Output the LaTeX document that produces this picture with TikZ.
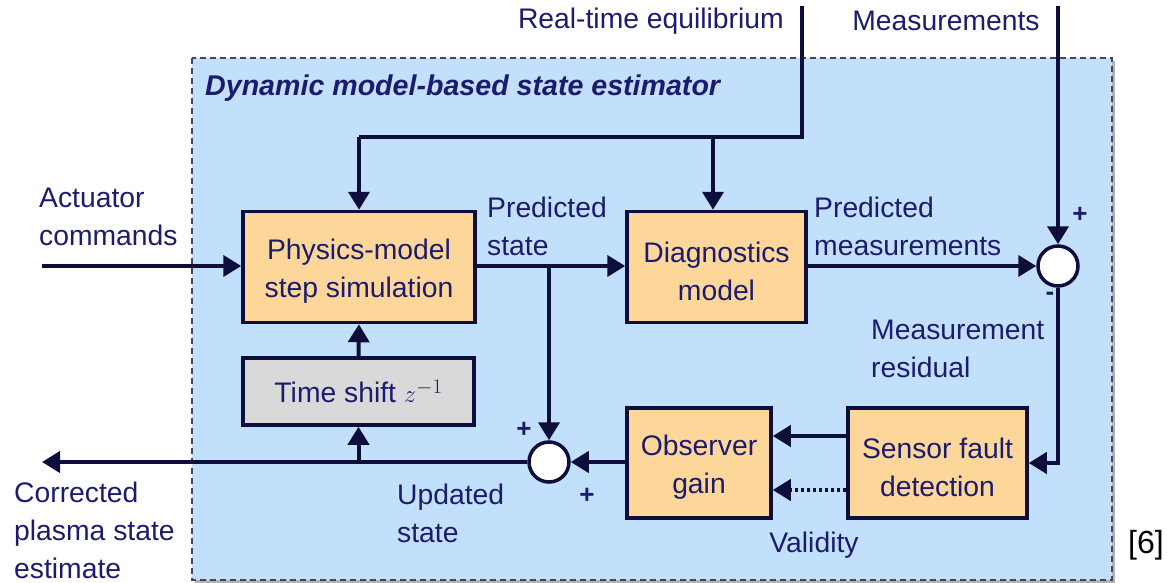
\documentclass[tikz,border=0pt]{standalone}
\usepackage{fontspec}
\setmainfont{Liberation Sans}
\usetikzlibrary{arrows.meta,calc}
\definecolor{inkcol}{RGB}{14,14,60}
\definecolor{txtcol}{RGB}{28,28,110}
\definecolor{panelcol}{RGB}{194,224,252}
\definecolor{blockcol}{RGB}{253,214,154}
\definecolor{delaycol}{RGB}{217,217,217}
\definecolor{framecol}{RGB}{70,70,90}
\newcommand{\topstrut}{\rule{0pt}{29pt}}
\tikzset{
  lbl/.style={text=txtcol,font=\fontsize{28.3}{38}\selectfont,inner sep=0pt},
  block/.style={draw=inkcol,line width=3.5pt,fill=blockcol,align=center,
    text=txtcol,font=\fontsize{28.3}{38}\selectfont,inner sep=0pt},
  sign/.style={lbl,font=\fontsize{26}{28}\selectfont\bfseries},
  sumnode/.style={circle,draw=inkcol,line width=3.5pt,fill=white,minimum size=40pt,inner sep=0pt},
  wire/.style={draw=inkcol,line width=4pt},
  arr/.style={wire,-{Triangle[length=18pt,width=21pt]}},
  dotarr/.style={arr,dash pattern=on 3pt off 3pt},
}
\begin{document}
\begin{tikzpicture}[x=1pt,y=-1pt]
\useasboundingbox (0,0) rectangle (1167,583);
% estimator panel with its shadow
\fill[gray!60] (195,61) rectangle (1115,583);
\draw[fill=panelcol,draw=framecol,line width=1.3pt,dash pattern=on 6pt off 4pt]
  (192,58) rectangle (1112,580);
\node[lbl,anchor=west,font=\fontsize{28.6}{32}\selectfont\bfseries\itshape] (title) at (205,88)
  {Dynamic model-based state estimator};

% blocks
\node[block,minimum width=232pt,minimum height=111pt] (phys) at (359,267)
  {\topstrut Physics-model\\step simulation};
\node[block,minimum width=179pt,minimum height=111pt] (diag) at (716.5,267)
  {\topstrut Diagnostics\\model};
\node[block,fill=delaycol,minimum width=231pt,minimum height=67pt] (delay) at (358.5,391.5)
  {Time shift $z^{-1}$};
\node[block,minimum width=144pt,minimum height=110pt] (obs) at (699,463)
  {\topstrut Observer\\gain};
\node[block,minimum width=179pt,minimum height=110pt] (sfd) at (937.5,463)
  {\topstrut Sensor fault\\detection};
\node[sumnode] (sumA) at (1058,266) {};
\node[sumnode] (sumB) at (549,462) {};

% external inputs / outputs
\coordinate (act) at (42,266);
\coordinate (rteq) at (802,6);
\coordinate (rtc) at (802,137);
\coordinate (meas) at (1058,6);
\coordinate (est) at (42,462);

% connectors
\draw[arr] (act) -- (act -| phys.west);
\draw[wire] (rteq) -- (rtc) -- (phys.north |- rtc);
\draw[arr] (phys.north |- rtc) -- (phys.north);
\draw[arr] ([xshift=-3.5pt]diag.north |- rtc) -- ([xshift=-3.5pt]diag.north);
\draw[arr] (act -| phys.east) -- (act -| diag.west);
\draw[arr] (act -| sumB) -- (sumB.north);
\draw[arr] (act -| diag.east) -- (sumA.west);
\draw[arr] (meas) -- (sumA.north);
\draw[arr] (sumA.south) |- (sfd.east);
\draw[arr] ([yshift=27pt]sfd.west) -- ([yshift=27pt]obs.east);
\draw[dotarr] ([yshift=-27pt]sfd.west) -- ([yshift=-27pt]obs.east);
\draw[arr] (obs.west |- sumB) -- (sumB.east);
\draw[arr] (sumB.west) -- (est);
\draw[arr] (delay.south |- sumB) -- (delay.south);
\draw[arr] (delay.north) -- (phys.south);

% labels
\node[lbl,anchor=east] (lrt) at (784,21) {Real-time equilibrium};
\node[lbl] (lmeas) at (946,21) {Measurements};
\node[lbl,align=left,anchor=west] (lact) at (39,217) {Actuator\\commands};
\node[lbl,align=left,anchor=west] (lps) at (487,226) {Predicted\\state};
\node[lbl,align=left,anchor=west] (lpm) at (814,226) {Predicted\\measurements};
\node[lbl,align=left,anchor=west] (lres) at (871,349) {Measurement\\residual};
\node[lbl,align=left,anchor=west] (lupd) at (397,513) {Updated\\state};
\node[lbl,align=left,anchor=west] (lcor) at (14,530) {Corrected\\plasma state\\estimate};
\node[lbl] (lval) at (814,545) {Validity};
\node[lbl,text=black,font=\fontsize{32}{38}\selectfont] (lref) at (1146,545) {[6]};
\node[sign] (pA1) at (1080,215) {+};
\node[sign] (mA) at (1050,296) {-};
\node[sign] (pB1) at (524,430) {+};
\node[sign] (pB2) at (587,496) {+};
\end{tikzpicture}
\end{document}
